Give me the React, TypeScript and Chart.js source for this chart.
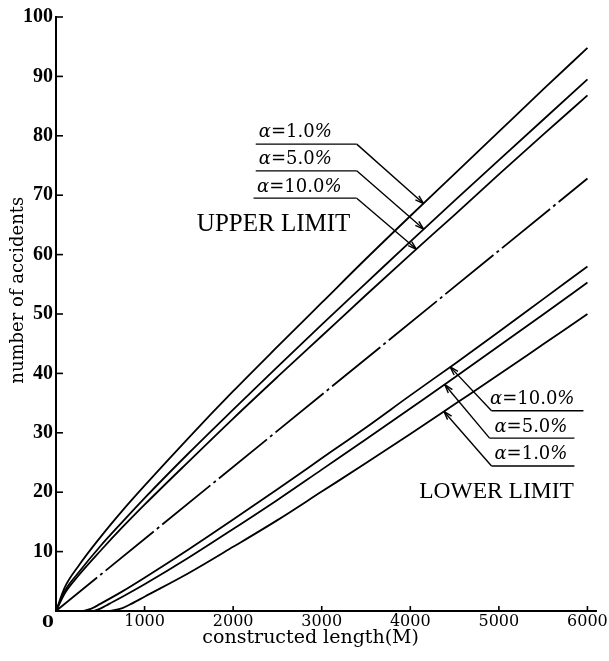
import { useEffect, useRef } from "react";
import { Chart, registerables } from "chart.js";
Chart.register(...registerables);

// ---- data ----
const xTicks = [0, 1000, 2000, 3000, 4000, 5000, 6000];
const yTicks = [0, 10, 20, 30, 40, 50, 60, 70, 80, 90, 100];

const upperX = [0, 100, 250, 500, 750, 1000, 1500, 2000, 2500, 3000, 3500, 4000, 4500, 5000, 5500, 6000];
const upper1 = [0, 4.0, 7.5, 12.4, 16.9, 21.1, 29.2, 37.0, 44.5, 51.9, 59.3, 66.5, 73.6, 80.7, 87.8, 94.8];
const upper5 = [0, 3.4, 6.4, 10.9, 15.0, 19.0, 26.6, 33.9, 41.1, 48.2, 55.2, 62.2, 69.1, 75.9, 82.7, 89.5];
const upper10 = [0, 3.0, 5.9, 10.1, 14.1, 17.9, 25.2, 32.4, 39.4, 46.3, 53.2, 60.0, 66.7, 73.5, 80.2, 86.8];

const meanX = [0, 6000];
const meanY = [0, 72.8];

const lower10X = [300, 400, 500, 750, 1000, 1500, 2000, 2500, 3000, 3500, 4000, 4500, 5000, 5500, 6000];
const lower10 = [0, 0.4, 1.2, 3.3, 5.6, 10.4, 15.4, 20.5, 25.7, 30.9, 36.3, 41.6, 47.0, 52.5, 58.0];
const lower5X = [420, 500, 600, 750, 1000, 1500, 2000, 2500, 3000, 3500, 4000, 4500, 5000, 5500, 6000];
const lower5 = [0, 0.4, 1.2, 2.4, 4.5, 9.0, 13.8, 18.7, 23.8, 28.9, 34.1, 39.3, 44.6, 49.9, 55.3];
const lower1X = [610, 750, 850, 1000, 1500, 2000, 2500, 3000, 3500, 4000, 4500, 5000, 5500, 6000];
const lower1 = [0, 0.5, 1.2, 2.4, 6.4, 10.8, 15.3, 20.1, 24.9, 29.8, 34.8, 39.8, 44.9, 50.0];

const pctUpper = ["1.0", "5.0", "10.0"];
const pctLower = ["10.0", "5.0", "1.0"];

// ---- annotation placement (data units) ----
const upperAnn = [
  { tx: 2290, ty: 80.6, u0: 2255, u1: 3395, uy: 78.6, ex: 4150, ey: 68.6 },
  { tx: 2290, ty: 76.1, u0: 2255, u1: 3395, uy: 74.1, ex: 4150, ey: 64.3 },
  { tx: 2270, ty: 71.4, u0: 2230, u1: 3395, uy: 69.5, ex: 4070, ey: 60.9 },
];
const lowerAnn = [
  { tx: 4900, ty: 35.7, u0: 4917, u1: 5955, uy: 33.7, ex: 4450, ey: 41.1 },
  { tx: 4950, ty: 30.9, u0: 4895, u1: 5853, uy: 29.1, ex: 4390, ey: 38.1 },
  { tx: 4950, ty: 26.3, u0: 4917, u1: 5853, uy: 24.4, ex: 4380, ey: 33.6 },
];

const pts = (xs: number[], ys: number[]) => xs.map((x, i) => ({ x, y: ys[i] }));

function drawAlpha(ctx: CanvasRenderingContext2D, x: number, y: number, pct: string) {
  ctx.textBaseline = "middle";
  ctx.textAlign = "left";
  ctx.font = "italic 18px 'DejaVu Serif'";
  ctx.fillText("α", x, y);
  let cx = x + ctx.measureText("α").width;
  ctx.font = "18px 'DejaVu Serif'";
  const mid = "=" + pct;
  ctx.fillText(mid, cx, y);
  cx += ctx.measureText(mid).width;
  ctx.font = "italic 18px 'DejaVu Serif'";
  ctx.fillText("%", cx, y);
}

function line(ctx: CanvasRenderingContext2D, x0: number, y0: number, x1: number, y1: number) {
  ctx.beginPath();
  ctx.moveTo(x0, y0);
  ctx.lineTo(x1, y1);
  ctx.stroke();
}

function arrowHead(ctx: CanvasRenderingContext2D, x0: number, y0: number, x1: number, y1: number) {
  const a = Math.atan2(y1 - y0, x1 - x0);
  const L = 9;
  const s = 0.3;
  line(ctx, x1, y1, x1 - L * Math.cos(a - s), y1 - L * Math.sin(a - s));
  line(ctx, x1, y1, x1 - L * Math.cos(a + s), y1 - L * Math.sin(a + s));
}

const annotPlugin = {
  id: "annot",
  afterDraw(chart: any) {
    const { ctx } = chart;
    const xs = chart.scales.x;
    const ys = chart.scales.y;
    const X = (v: number) => xs.getPixelForValue(v);
    const Y = (v: number) => ys.getPixelForValue(v);
    ctx.save();
    ctx.strokeStyle = "#000";
    ctx.fillStyle = "#000";
    ctx.lineWidth = 1.6;
    // inner tick marks
    yTicks.forEach((t) => {
      if (t === 0) return;
      line(ctx, X(0), Y(t), X(0) + 7, Y(t));
    });
    xTicks.forEach((t) => {
      if (t === 0) return;
      line(ctx, X(t), Y(0), X(t), Y(0) - 5);
    });
    // origin label
    ctx.font = "bold 17px 'DejaVu Serif'";
    ctx.textAlign = "center";
    ctx.textBaseline = "middle";
    ctx.fillText("0", X(0) - 8, Y(0) + 12);
    // x title
    ctx.font = "19px 'DejaVu Serif'";
    ctx.fillText("constructed length(M)", X(2875), Y(0) + 27);
    // y title
    ctx.save();
    ctx.translate(18, Y(54));
    ctx.rotate(-Math.PI / 2);
    ctx.font = "18px 'DejaVu Serif'";
    ctx.textAlign = "center";
    ctx.textBaseline = "middle";
    ctx.fillText("number of accidents", 0, 0);
    ctx.restore();
    // labels
    ctx.lineWidth = 1.4;
    upperAnn.forEach((a, i) => {
      drawAlpha(ctx, X(a.tx), Y(a.ty), pctUpper[i]);
      line(ctx, X(a.u0), Y(a.uy), X(a.u1), Y(a.uy));
      line(ctx, X(a.u1), Y(a.uy), X(a.ex), Y(a.ey));
      arrowHead(ctx, X(a.u1), Y(a.uy), X(a.ex), Y(a.ey));
    });
    lowerAnn.forEach((a, i) => {
      drawAlpha(ctx, X(a.tx), Y(a.ty), pctLower[i]);
      line(ctx, X(a.u0), Y(a.uy), X(a.u1), Y(a.uy));
      line(ctx, X(a.u0), Y(a.uy), X(a.ex), Y(a.ey));
      arrowHead(ctx, X(a.u0), Y(a.uy), X(a.ex), Y(a.ey));
    });
    ctx.textAlign = "left";
    ctx.textBaseline = "middle";
    ctx.font = "25px 'Liberation Serif'";
    ctx.fillText("UPPER LIMIT", X(1590), Y(65.0));
    ctx.font = "23.5px 'Liberation Serif'";
    ctx.fillText("LOWER LIMIT", X(4100), Y(20.0));
    ctx.restore();
  },
};

export default function App() {
  const ref = useRef<HTMLCanvasElement | null>(null);
  useEffect(() => {
    if (!ref.current) return;
    const solid = (d: any) => ({
      data: d,
      borderColor: "#000",
      borderWidth: 1.8,
      pointRadius: 0,
      fill: false,
      cubicInterpolationMode: "monotone" as const,
    });
    const chart = new Chart(ref.current, {
      type: "line",
      data: {
        datasets: [
          solid(pts(upperX, upper1)),
          solid(pts(upperX, upper5)),
          solid(pts(upperX, upper10)),
          { ...solid(pts(meanX, meanY)), borderDash: [62, 4, 3, 4], borderDashOffset: 9 },
          solid(pts(lower10X, lower10)),
          solid(pts(lower5X, lower5)),
          solid(pts(lower1X, lower1)),
        ],
      },
      options: {
        animation: false,
        responsive: false,
        layout: { padding: { left: 0, right: 12, top: 17, bottom: 0 } },
        plugins: { legend: { display: false }, tooltip: { enabled: false } },
        scales: {
          x: {
            type: "linear",
            min: 0,
            max: 6100,
            afterBuildTicks: (s: any) => {
              s.ticks = xTicks.map((v) => ({ value: v }));
            },
            afterFit: (s: any) => {
              s.height = 50;
            },
            ticks: {
              callback: (v: any) => (v === 0 ? "" : String(v)),
              font: { family: "DejaVu Serif", size: 16 },
              color: "#000",
              padding: 1,
              maxRotation: 0,
              autoSkip: false,
            },
            grid: { display: false, drawTicks: false },
            border: { display: true, color: "#000", width: 2 },
            title: { display: false },
          },
          y: {
            type: "linear",
            min: 0,
            max: 100,
            afterBuildTicks: (s: any) => {
              s.ticks = yTicks.map((v) => ({ value: v }));
            },
            afterFit: (s: any) => {
              s.width = 56;
            },
            ticks: {
              callback: (v: any) => (v === 0 ? "" : String(v)),
              font: { family: "Liberation Serif", size: 20, weight: "bold" },
              color: "#000",
              padding: 3,
              autoSkip: false,
            },
            grid: { display: false, drawTicks: false },
            border: { display: true, color: "#000", width: 2 },
          },
        },
      },
      plugins: [annotPlugin],
    });
    return () => chart.destroy();
  }, []);
  return (
    <div style={{ position: "absolute", left: 0, top: 0, width: 609, height: 661, background: "#fff" }}>
      <canvas ref={ref} width={609} height={661} style={{ display: "block" }} />
    </div>
  );
}
